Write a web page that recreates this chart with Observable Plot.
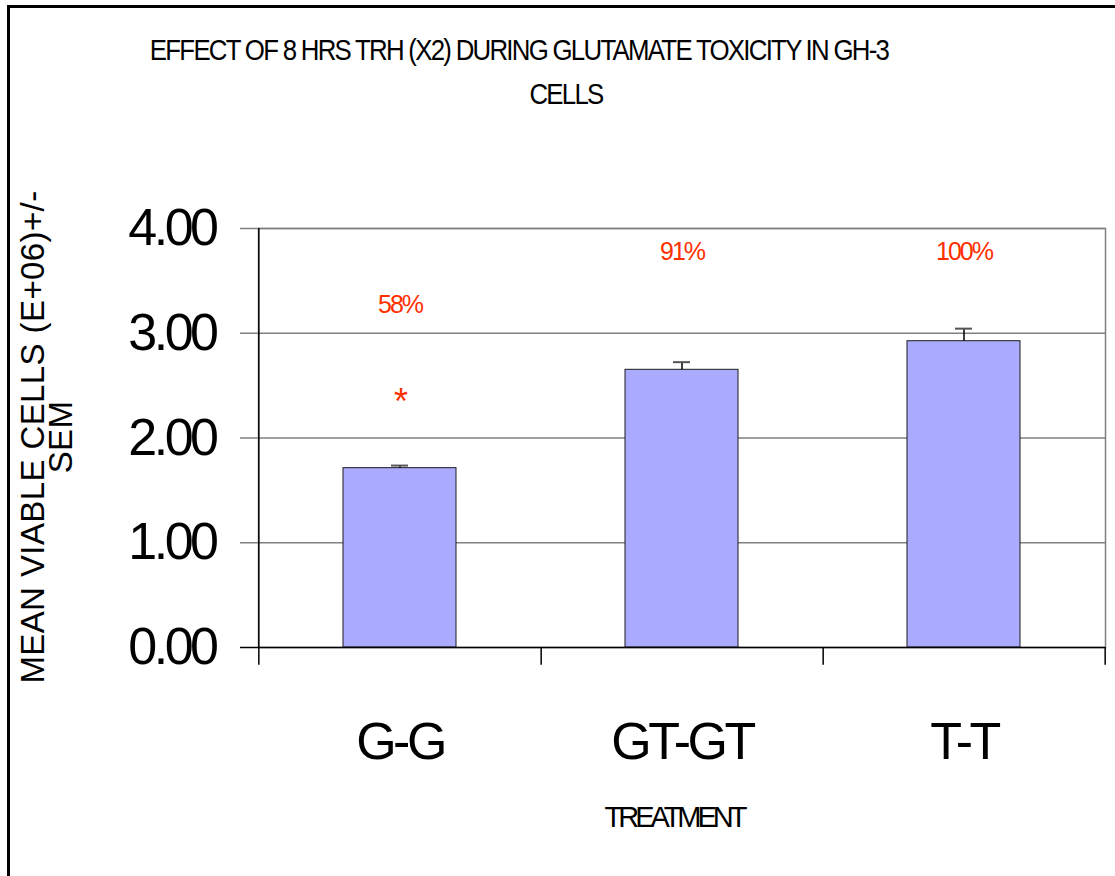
<!DOCTYPE html>
<html>
<head>
<meta charset="utf-8">
<script src="https://cdn.jsdelivr.net/npm/d3@7"></script>
<script src="https://cdn.jsdelivr.net/npm/@observablehq/plot@0.6"></script>
<style>
  html, body { margin: 0; padding: 0; background: #fff; overflow: hidden; width: 1115px; height: 876px; }
  #page { position: relative; width: 1115px; height: 876px; font-family: "Liberation Sans", Arial, sans-serif; color: #000; }
  #frame { position: absolute; left: 7px; top: 5px; width: 1300px; height: 1000px; border: 3px solid #000; box-sizing: border-box; }
  #chart { position: absolute; left: 0; top: 0; }
  .t { position: absolute; white-space: nowrap; text-align: center; }
  #chart g[aria-label="x-axis tick label"] text,
  #chart g[aria-label="y-axis tick label"] text { letter-spacing: -3.5px; }
  #chart g[aria-label="text"] text { letter-spacing: -2px; }
</style>
</head>
<body>
<div id="page">
  <div id="frame"></div>
  <div id="chart"></div>
  <div class="t" style="left:19px; width:1000px; top:35px; font-size:30px; line-height:30px; letter-spacing:-2px; transform: scaleX(0.86);">EFFECT OF 8 HRS TRH (X2) DURING GLUTAMATE TOXICITY IN GH-3</div>
  <div class="t" style="left:66px; width:1000px; top:79px; font-size:30px; line-height:30px; letter-spacing:-2px; transform: scaleX(0.86);">CELLS</div>
  <div class="t" style="left:174px; width:1000px; top:803px; font-size:29px; line-height:29px; letter-spacing:-4px;">TREATMENT</div>
  <div class="t" style="left:-253px; width:600px; top:409px; font-size:33px; line-height:28px; letter-spacing:0.4px; transform: rotate(-90deg); transform-origin: 300px 28px;">MEAN VIABLE CELLS (E+06)+/-<br>SEM</div>
</div>
<script>
const categories = ["G-G", "GT-GT", "T-T"];
const means = [1.712, 2.651, 2.924];
const sems = [0.025, 0.073, 0.12];
const percentLabels = ["58%", "91%", "100%"];
const percentLabelY = [3.27, 3.78, 3.78];
const significance = ["*", "", ""];
const significanceY = [2.34, null, null];
const yTicks = [0, 1, 2, 3, 4];

const data = categories.map((c, i) => ({
  cat: c, mean: means[i], sem: sems[i],
  pct: percentLabels[i], pctY: percentLabelY[i],
  sig: significance[i], sigY: significanceY[i]
}));

const W = 1115, H = 876, mL = 258, mR = 10, mT = 228, mB = 229;
const halfStep = (W - mL - mR) / categories.length / 2;
const red = "#ff3000";

const chart = Plot.plot({
  width: W, height: H,
  marginLeft: mL, marginRight: mR, marginTop: mT, marginBottom: mB,
  style: { fontFamily: "'Liberation Sans', Arial, sans-serif", background: "transparent", color: "#000", overflow: "visible" },
  x: { type: "band", domain: categories, paddingInner: 0.6, paddingOuter: 0.3 },
  y: { domain: [0, 4] },
  marks: [
    Plot.ruleY(yTicks.filter(t => t > 0), { stroke: "#808080", strokeWidth: 1.5, insetLeft: -18 }),
    Plot.frame({ stroke: "#808080", strokeWidth: 1.5 }),
    Plot.barY(data, { x: "cat", y: "mean", fill: "#aaaaff", stroke: "#1a1a1a", strokeWidth: 1 }),
    Plot.ruleX(data, { x: "cat", y1: "mean", y2: d => d.mean + d.sem, stroke: "#000", strokeWidth: 1.5 }),
    Plot.tickY(data, { x: "cat", y: d => d.mean + d.sem, stroke: "#555", strokeWidth: 2, insetLeft: 48, insetRight: 48 }),
    Plot.ruleX([categories[0]], { x: d => d, dx: -halfStep, y1: -0.17, y2: 4, stroke: "#000", strokeWidth: 1.5 }),
    Plot.ruleX(categories, { x: d => d, dx: halfStep, y1: -0.17, y2: 0, stroke: "#000", strokeWidth: 1.5 }),
    Plot.ruleY([0], { stroke: "#000", strokeWidth: 1.5, insetLeft: -18 }),
    Plot.axisY({ ticks: yTicks, tickFormat: d => d.toFixed(2), tickSize: 0, tickPadding: 43, fontSize: 52, label: null }),
    Plot.axisX({ tickSize: 0, tickPadding: 75, fontSize: 52, label: null }),
    Plot.text(data, { x: "cat", y: "pctY", text: "pct", fill: red, fontSize: 25 }),
    Plot.text(data.filter(d => d.sig), { x: "cat", y: "sigY", text: "sig", fill: red, fontSize: 36 })
  ]
});
document.getElementById("chart").appendChild(chart);
</script>
</body>
</html>
